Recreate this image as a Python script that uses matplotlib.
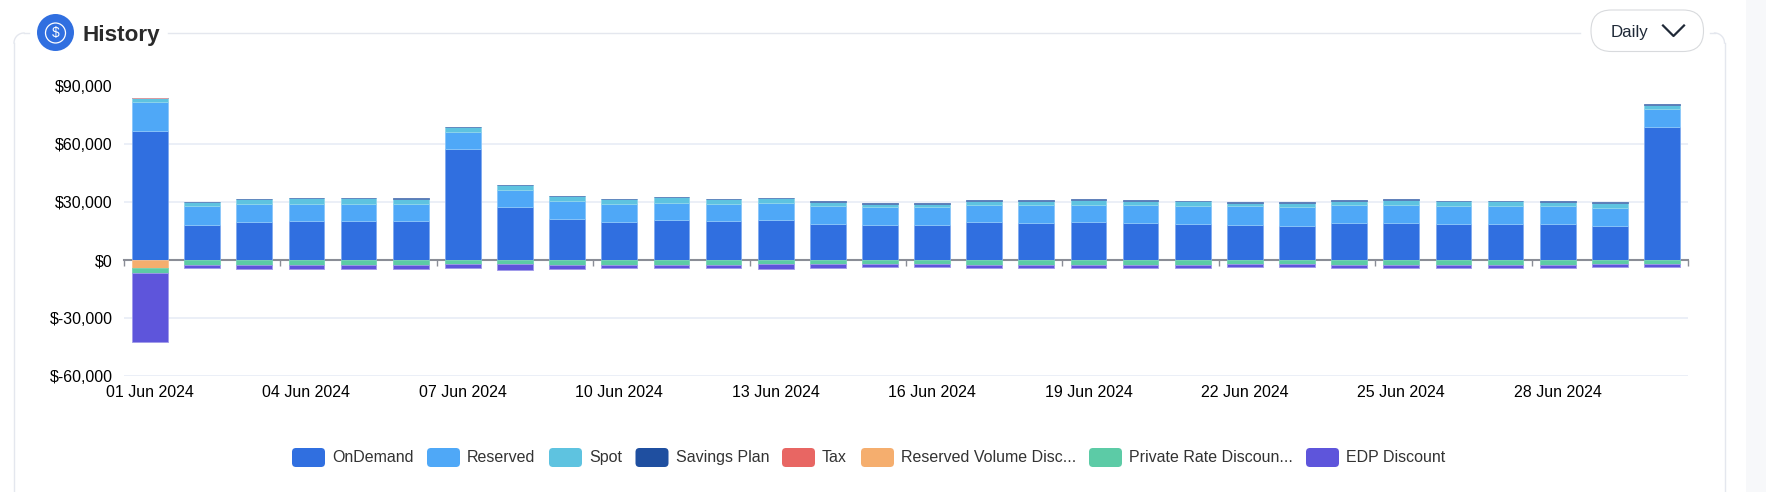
import matplotlib
matplotlib.use('Agg')
import matplotlib.pyplot as plt
from matplotlib.patches import Circle, FancyBboxPatch, Rectangle
from matplotlib.transforms import blended_transform_factory
import numpy as np

plt.rcParams['font.family'] = ['Liberation Sans', 'DejaVu Sans']

date_labels = ['01 Jun 2024', '04 Jun 2024', '07 Jun 2024', '10 Jun 2024', '13 Jun 2024',
               '16 Jun 2024', '19 Jun 2024', '22 Jun 2024', '25 Jun 2024', '28 Jun 2024']
y_ticks = [-60000, -30000, 0, 30000, 60000, 90000]
y_labels = ['$-60,000', '$-30,000', '$0', '$30,000', '$60,000', '$90,000']

on_demand = [67100, 18300, 19700, 20000, 20000, 20000, 57800, 27300, 21400, 19900,
             20700, 20200, 20500, 18800, 18300, 18300, 19500, 19400, 19500, 19200,
             18800, 18000, 17800, 19400, 19400, 18800, 18800, 18700, 17800, 69000]
reserved = [14700, 9500, 9200, 9200, 9200, 9200, 8800, 9200, 9200, 9100,
            9000, 9000, 9000, 9400, 9200, 9400, 9200, 9300, 9200, 9300,
            9400, 9800, 9700, 9300, 9300, 9400, 9400, 9300, 9300, 9400]
spot = [2100, 2100, 2700, 2800, 2800, 2700, 2200, 2200, 2400, 2600,
        2800, 2400, 2500, 2000, 1700, 1500, 2100, 2100, 2400, 2300,
        2200, 1600, 1900, 2100, 2400, 2200, 2200, 2300, 2300, 2000]
savings_plan = [100, 200, 150, 150, 150, 150, 150, 200, 150, 150,
                150, 150, 150, 400, 400, 600, 500, 500, 400, 500,
                400, 500, 500, 500, 400, 400, 400, 400, 500, 500]
tax = [200] + [0] * 29
reserved_volume = [-4000] + [0] * 29
private_rate = [-2900, -2400, -2700, -2700, -2600, -2600, -2300, -2100, -2400, -2600,
                -2400, -2400, -2300, -2300, -1900, -2100, -2400, -2400, -2400, -2400,
                -2400, -2100, -2100, -2400, -2400, -2400, -2400, -2400, -2100, -2100]
edp = [-35800, -1700, -1900, -1900, -1900, -1900, -1900, -2900, -2100, -1700,
       -1900, -1700, -2100, -1900, -1700, -1700, -1700, -1700, -1900, -1900,
       -1600, -1600, -1600, -1900, -1900, -1700, -1700, -1600, -1700, -1700]

positive = [
    ('OnDemand', on_demand, '#306fe0', '#7fa9ee'),
    ('Reserved', reserved, '#4fa8f7', '#8ac6fa'),
    ('Spot', spot, '#5ec3e0', '#8fd6ea'),
    ('Savings Plan', savings_plan, '#1f4fa0', '#5a7cb8'),
    ('Tax', tax, '#e86663', '#f0a09e'),
]
negative = [
    ('Reserved Volume Disc...', reserved_volume, '#f5ae6e', '#f7c08e'),
    ('Private Rate Discoun...', private_rate, '#5ccba6', '#76d4b4'),
    ('EDP Discount', edp, '#5e55db', '#a09aea'),
]

W, H = 1766, 492
fig = plt.figure(figsize=(W / 100, H / 100), dpi=100, facecolor='white')

# page furniture, in pixel coordinates
bg = fig.add_axes([0, 0, 1, 1], zorder=0)
bg.set_xlim(0, W)
bg.set_ylim(H, 0)
bg.axis('off')
border = '#e4e7ee'
bg.add_patch(Rectangle((1746, 0), 20, H, color='#f7f8fa', lw=0))
bg.plot([14, 14], [43, H], color=border, lw=1)
bg.plot([1724.5, 1724.5], [43, H], color=border, lw=1)
bg.plot([24, 29], [33, 33], color=border, lw=1)
bg.plot([168, 1580], [33, 33], color=border, lw=1)
bg.plot([1710, 1714.5], [33, 33], color=border, lw=1)
t = np.linspace(0, np.pi / 2, 20)
bg.plot(24 - 10 * np.cos(t), 43 - 10 * np.sin(t), color=border, lw=1)
bg.plot(1714.5 + 10 * np.sin(t), 43 - 10 * np.cos(t), color=border, lw=1)

bg.add_patch(Circle((55.5, 32.5), 18.5, color='#306fe0', lw=0))
bg.add_patch(Circle((55.5, 33), 10, fill=False, ec='white', lw=0.9))
bg.text(55.5, 33.5, '$', color='white', fontsize=10, ha='center', va='center')
bg.text(83, 35, 'History', color='#2a2a2a', fontsize=16.2, fontweight='bold', va='center')

bg.add_patch(FancyBboxPatch((1591 + 20.5, 10 + 20.5), 112.5 - 41, 41.5 - 41,
                            boxstyle='round,pad=20.5', fc='white', ec='#d8dadd', lw=0.8))
bg.text(1611, 32.5, 'Daily', color='#1f2937', fontsize=12.2, va='center')
bg.plot([1663, 1673.5, 1684], [25.5, 36, 25.5], color='#1f2937', lw=1.6)

# legend
legend_x = [292, 427, 549, 635.5, 782, 861, 1089, 1306]
for (name, _, color, edge), x in zip(positive + negative, legend_x):
    bg.add_patch(FancyBboxPatch((x + 4, 452), 25, 11, boxstyle='round,pad=4',
                                fc=color, ec='none'))
    bg.text(x + 40, 457.5, name, color='#333333', fontsize=11.5, va='center')

# chart
ax = fig.add_axes([124 / W, 1 - 375.7 / H, 1564 / W, (375.7 - 86.5) / H], zorder=1)
ax.patch.set_alpha(0)
x = np.arange(len(on_demand))
width = 0.685

for group in (positive, negative):
    bottom = np.zeros(len(x))
    for name, values, color, edge in group:
        values = np.array(values, dtype=float)
        keep = values != 0
        ax.bar(x[keep], values[keep], width, bottom=bottom[keep], color=color,
               edgecolor=edge, linewidth=0.6, zorder=3)
        bottom += values

ax.set_xlim(-0.5, 29.5)
ax.set_ylim(-60000, 90000)
ax.set_yticks(y_ticks)
ax.set_yticklabels(y_labels)
ax.tick_params(axis='y', length=0, pad=8, labelsize=11.5, labelcolor='black')
ax.grid(axis='y', color='#e6ebf5', lw=1.1, zorder=0)
ax.set_axisbelow(True)

for side in ['top', 'left', 'right']:
    ax.spines[side].set_visible(False)
ax.spines['bottom'].set_position(('data', 0))
ax.spines['bottom'].set_color('#8a8d96')
ax.spines['bottom'].set_linewidth(1.5)
ax.spines['bottom'].set_zorder(2)

ax.set_xticks(np.arange(-0.5, 30, 3))
ax.set_xticklabels([])
ax.tick_params(axis='x', length=4.5, width=1, color='#8a8d96', direction='out')

trans = blended_transform_factory(ax.transData, ax.transAxes)
for i, label in zip(x[::3], date_labels):
    ax.annotate(label, (i, 0), xycoords=trans, xytext=(0, -7), textcoords='offset points',
                ha='center', va='top', fontsize=11.5, color='black')

fig.savefig('out.png', dpi=100)
